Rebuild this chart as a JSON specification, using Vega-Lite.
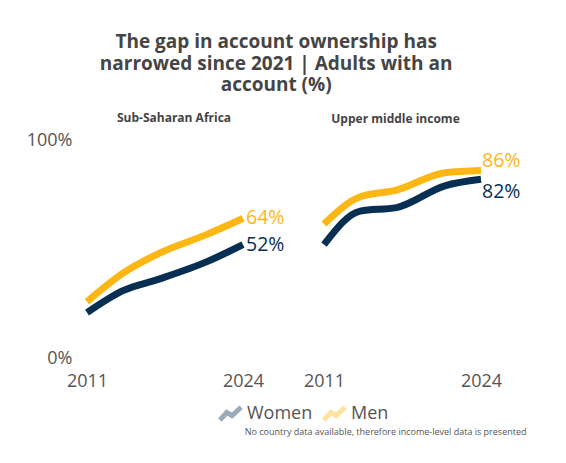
{
  "$schema": "https://vega.github.io/schema/vega-lite/v6.json",
  "background": "white",
  "padding": {"left": 26, "top": 33, "right": 10, "bottom": 10},
  "bounds": "flush",
  "spacing": 81,
  "title": {
    "text": ["The gap in account ownership has", "narrowed since 2021 | Adults with an", "account (%)"],
    "font": "Open Sans",
    "fontSize": 19,
    "fontWeight": "bold",
    "color": "#454545",
    "lineHeight": 21.5,
    "anchor": "middle",
    "offset": 17
  },
  "datasets": {
    "findex": [
      {"region": "Sub-Saharan Africa", "sex": "Men", "year": 2011, "value": 0.258},
      {"region": "Sub-Saharan Africa", "sex": "Men", "year": 2014, "value": 0.389},
      {"region": "Sub-Saharan Africa", "sex": "Men", "year": 2017, "value": 0.48},
      {"region": "Sub-Saharan Africa", "sex": "Men", "year": 2021, "value": 0.567},
      {"region": "Sub-Saharan Africa", "sex": "Men", "year": 2024, "value": 0.64},
      {"region": "Sub-Saharan Africa", "sex": "Women", "year": 2011, "value": 0.208},
      {"region": "Sub-Saharan Africa", "sex": "Women", "year": 2014, "value": 0.309},
      {"region": "Sub-Saharan Africa", "sex": "Women", "year": 2017, "value": 0.362},
      {"region": "Sub-Saharan Africa", "sex": "Women", "year": 2021, "value": 0.442},
      {"region": "Sub-Saharan Africa", "sex": "Women", "year": 2024, "value": 0.52},
      {"region": "Upper middle income", "sex": "Men", "year": 2011, "value": 0.615},
      {"region": "Upper middle income", "sex": "Men", "year": 2014, "value": 0.74},
      {"region": "Upper middle income", "sex": "Men", "year": 2017, "value": 0.77},
      {"region": "Upper middle income", "sex": "Men", "year": 2021, "value": 0.85},
      {"region": "Upper middle income", "sex": "Men", "year": 2024, "value": 0.86},
      {"region": "Upper middle income", "sex": "Women", "year": 2011, "value": 0.52},
      {"region": "Upper middle income", "sex": "Women", "year": 2014, "value": 0.674},
      {"region": "Upper middle income", "sex": "Women", "year": 2017, "value": 0.69},
      {"region": "Upper middle income", "sex": "Women", "year": 2021, "value": 0.79},
      {"region": "Upper middle income", "sex": "Women", "year": 2024, "value": 0.82}
    ]
  },
  "data": {"name": "findex"},
  "hconcat": [
    {
      "width": 156,
      "height": 218,
      "title": {"text": "Sub-Saharan Africa", "font": "Open Sans", "fontSize": 12, "fontWeight": "bold", "color": "#444444", "dx": 9, "offset": 6},
      "transform": [{"filter": "datum.region === 'Sub-Saharan Africa'"}],
      "encoding": {
        "x": {"field": "year", "type": "quantitative", "scale": {"domain": [2011, 2024], "nice": false, "zero": false},
              "axis": {"values": [2011, 2024], "format": "d", "title": null, "domain": false, "ticks": false, "grid": false, "labelFontSize": 18, "labelFont": "Open Sans", "labelColor": "#555555", "labelPadding": 14, "labelFlush": false}},
        "y": {"field": "value", "type": "quantitative", "scale": {"domain": [0, 1], "nice": false},
              "axis": {"values": [0, 1], "format": ".0%", "title": null, "domain": false, "ticks": false, "grid": false, "labelFontSize": 18, "labelFont": "Open Sans", "labelColor": "#555555", "labelPadding": 15, "labelFlush": false}},
        "color": {"field": "sex", "type": "nominal", "scale": {"domain": ["Women", "Men"], "range": ["#072f52", "#fdb714"]},
                  "legend": {"orient": "none", "legendX": 130, "legendY": 260, "direction": "horizontal", "title": null, "labelFont": "Open Sans", "labelFontSize": 18, "labelColor": "#555555", "symbolType": "M-1,0.6L-0.35,-0.1L0.15,0.2L1,-0.6", "symbolSize": 450, "symbolStrokeWidth": 5, "symbolOpacity": 0.4, "columnPadding": 0, "labelOffset": 3}}
      },
      "layer": [
        {"mark": {"type": "line", "strokeWidth": 7, "interpolate": "monotone", "strokeCap": "butt"}},
        {"transform": [{"filter": "datum.year === 2024"}],
         "mark": {"type": "text", "align": "left", "baseline": "middle", "dx": 3, "font": "Open Sans", "fontSize": 19.5},
         "encoding": {"text": {"field": "value", "type": "quantitative", "format": ".0%"}}}
      ]
    },
    {
      "width": 157,
      "height": 218,
      "title": {"text": "Upper middle income", "font": "Open Sans", "fontSize": 12, "fontWeight": "bold", "color": "#444444", "dx": -7, "offset": 14},
      "transform": [{"filter": "datum.region === 'Upper middle income'"}],
      "encoding": {
        "x": {"field": "year", "type": "quantitative", "scale": {"domain": [2011, 2024], "nice": false, "zero": false},
              "axis": {"values": [2011, 2024], "format": "d", "domain": false, "ticks": false, "grid": false, "labelFontSize": 18, "labelFont": "Open Sans", "labelColor": "#555555", "labelPadding": 14, "labelFlush": false,
                       "title": "No country data available, therefore income-level data is presented", "titleFont": "Open Sans", "titleFontSize": 9, "titleFontWeight": "normal", "titleColor": "#555555", "titleAlign": "right", "titleAnchor": "end", "titleBaseline": "middle", "titleX": 202, "titleY": 73}},
        "y": {"field": "value", "type": "quantitative", "scale": {"domain": [0, 1], "nice": false}, "axis": null},
        "color": {"field": "sex", "type": "nominal", "scale": {"domain": ["Women", "Men"], "range": ["#072f52", "#fdb714"]}}
      },
      "layer": [
        {"mark": {"type": "line", "strokeWidth": 7, "interpolate": "monotone", "strokeCap": "butt"}},
        {"transform": [{"filter": "datum.year === 2024 && datum.sex === 'Men'"}],
         "mark": {"type": "text", "align": "left", "baseline": "middle", "dx": 1, "dy": -10, "font": "Open Sans", "fontSize": 19.5},
         "encoding": {"text": {"field": "value", "type": "quantitative", "format": ".0%"}}},
        {"transform": [{"filter": "datum.year === 2024 && datum.sex === 'Women'"}],
         "mark": {"type": "text", "align": "left", "baseline": "middle", "dx": 1, "dy": 13, "font": "Open Sans", "fontSize": 19.5},
         "encoding": {"text": {"field": "value", "type": "quantitative", "format": ".0%"}}}
      ]
    }
  ],
  "resolve": {"scale": {"color": "shared"}},
  "config": {"view": {"stroke": null}}
}
